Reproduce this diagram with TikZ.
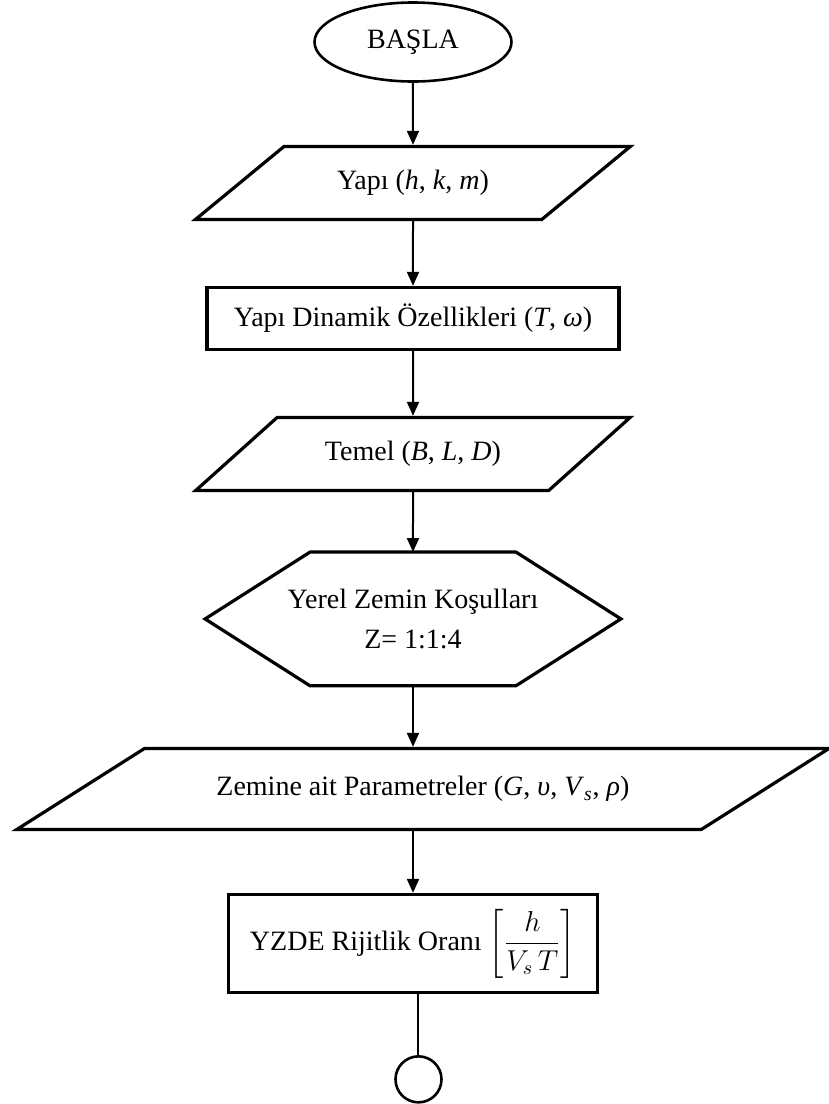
\documentclass[tikz,border=0pt]{standalone}
\usepackage{amsmath}
\usepackage{fontspec}
\setmainfont{Liberation Serif}
\usetikzlibrary{shapes,shapes.geometric,arrows.meta,positioning}

\begin{document}
\begin{tikzpicture}[
    >={Triangle[length=7pt,width=6pt]},
    yazi/.style={font=\fontsize{14}{16.8}\selectfont},
    basla/.style={ellipse,draw,yazi,line width=1.3pt,minimum width=98.5pt,minimum height=39.5pt,inner sep=0pt},
    veri/.style={trapezium,draw,yazi,line width=1.6pt,trapezium stretches=true,
        minimum height=36.5pt,minimum width=217.5pt,trapezium left angle=34.3,trapezium right angle=145.7},
    islem/.style={rectangle,draw,yazi,line width=1.6pt},
    hazirlik/.style={yazi,align=center,minimum width=207.5pt,minimum height=66.5pt,inner sep=0pt},
    bitis/.style={circle,draw,line width=1.3pt,minimum size=23pt,inner sep=0pt},
    ok/.style={->,line width=1pt}]
    \useasboundingbox (-206.5pt,21pt) rectangle (208pt,-531pt);

    \node[basla] (S) {BAŞLA};
    \node[veri] (Y) [below=31pt of S] {Yapı (\textit{h}, \textit{k}, \textit{m})};
    \node[islem,minimum width=206pt,minimum height=31pt] (D) [below=32.4pt of Y] {Yapı Dinamik Özellikleri (\textit{T}, \textit{ω})};
    \node[veri] (T) [below=32.4pt of D] {Temel (\textit{B}, \textit{L}, \textit{D})};
    \node[hazirlik] (Z) [below=30pt of T] {Yerel Zemin Koşulları\\[3pt] Z= 1:1:4};
    \node[veri,minimum width=407.5pt,minimum height=40.5pt,trapezium left angle=21.6,trapezium right angle=158.4]
        (P) [below=30.5pt of Z,xshift=5pt] {Zemine ait Parametreler (\textit{G}, \textit{υ}, \textit{V}\textsubscript{\textit{s}}, \textit{ρ})};
    \node[islem,minimum width=184.5pt,minimum height=49pt] (R) [below=30.9pt of P,xshift=-5pt] {YZDE Rijitlik Oranı $\left[\dfrac{h}{V_s\,T}\right]$};
    \node[bitis] (E) [below=30.5pt of R,xshift=2.75pt] {};

    % altigen
    \draw[line width=1.6pt] (Z.west) -- ([xshift=52.5pt]Z.north west) -- ([xshift=-52.5pt]Z.north east)
        -- (Z.east) -- ([xshift=-52.5pt]Z.south east) -- ([xshift=52.5pt]Z.south west) -- cycle;

    \draw[ok] (S) -- (Y);
    \draw[ok] (Y) -- (D);
    \draw[ok] (D) -- (T);
    \draw[ok] (T) -- (Z);
    \draw[ok] (Z.south) -- (Z.south |- P.north);
    \draw[ok] (R.north |- P.south) -- (R.north);
    \draw[line width=1pt] (E.north |- R.south) -- (E.north);
\end{tikzpicture}
\end{document}
